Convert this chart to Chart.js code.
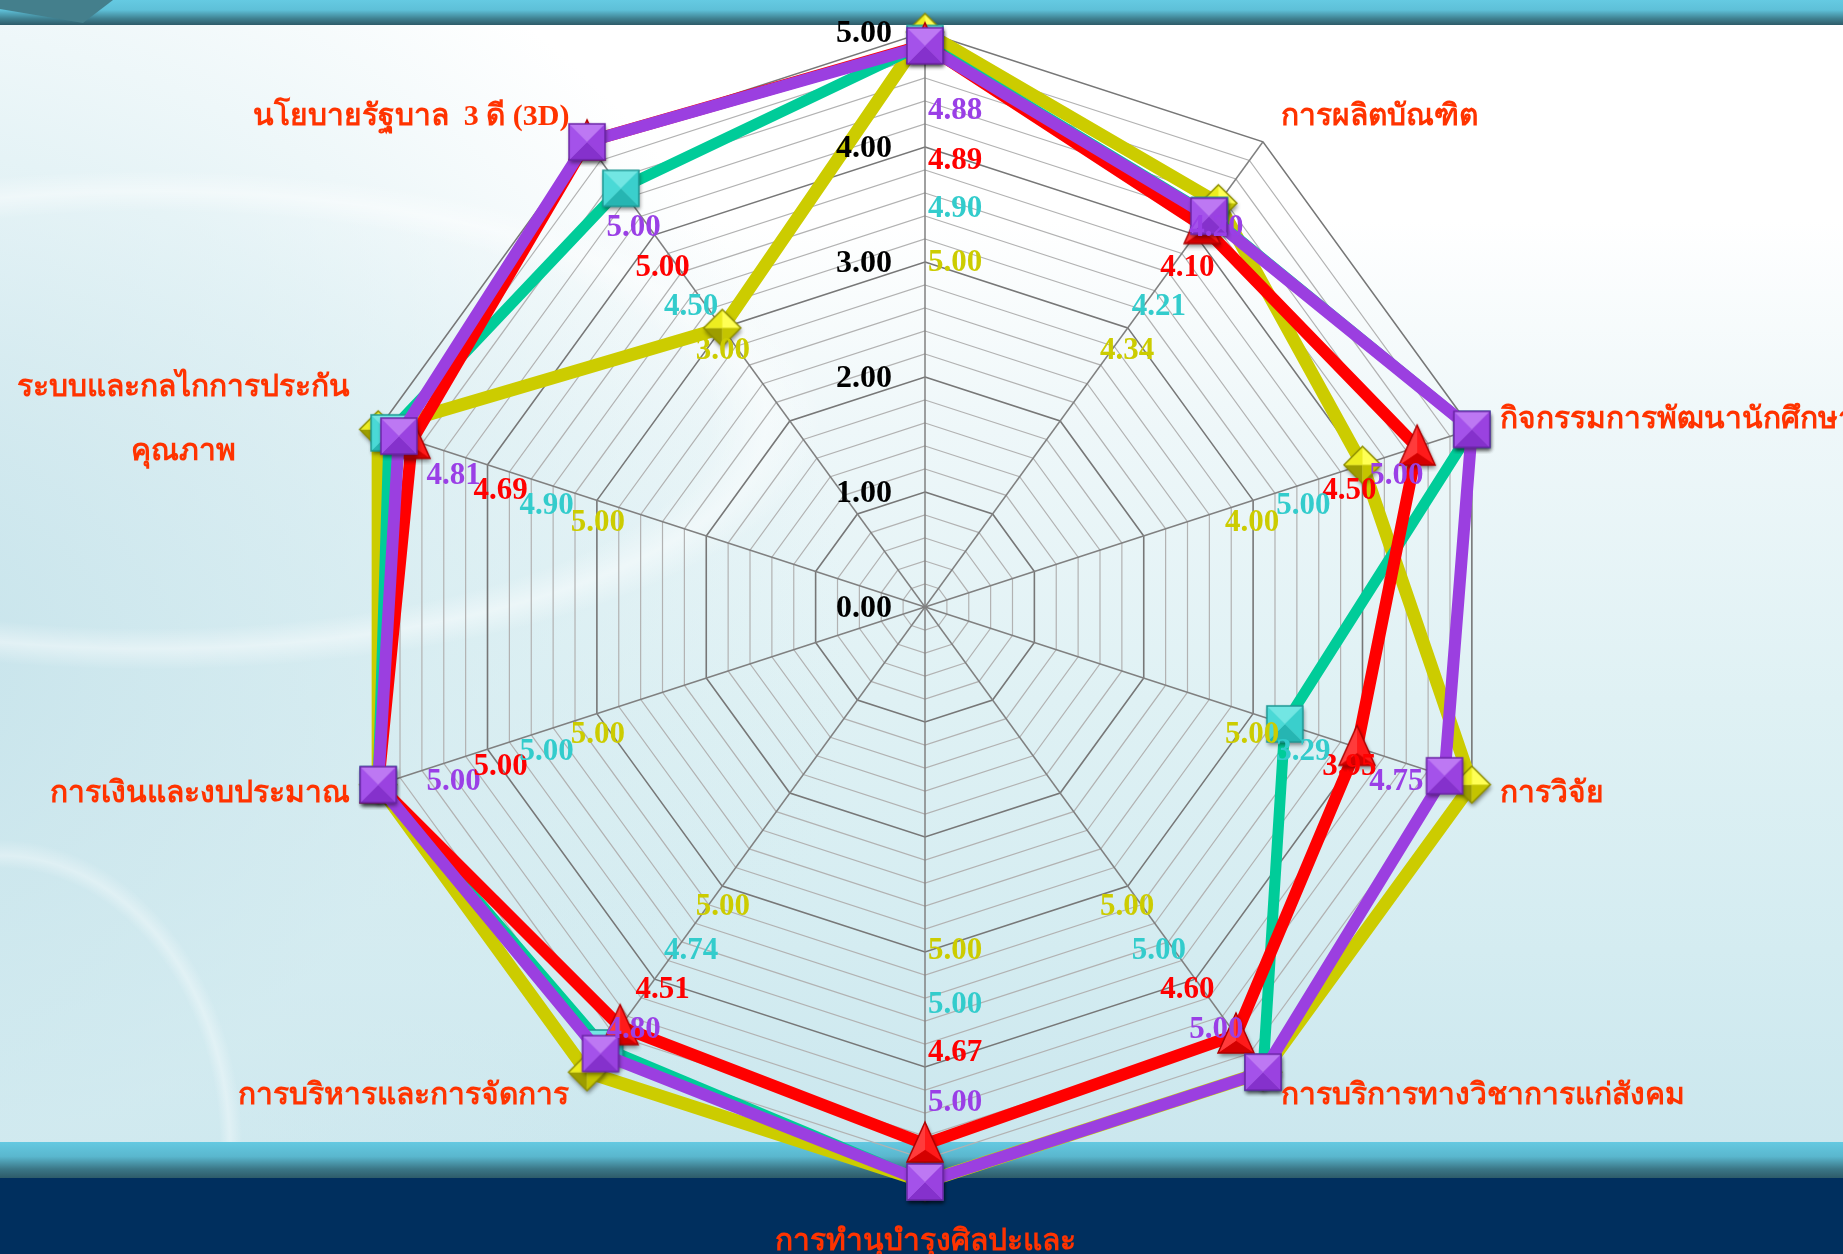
<!DOCTYPE html>
<html>
<head>
<meta charset="utf-8">
<script src="https://cdn.jsdelivr.net/npm/chart.js@4.4.1/dist/chart.umd.min.js"></script>
<style>
html, body { margin: 0; padding: 0; width: 1843px; height: 1254px; overflow: hidden; }
body {
    position: relative;
    background:
        radial-gradient(ellipse 250px 320px at 0px 1150px, rgba(255,255,255,0) 88%, rgba(255,255,255,0.35) 92%, rgba(255,255,255,0) 97%),
        radial-gradient(ellipse 700px 260px at 150px 420px, rgba(255,255,255,0) 80%, rgba(255,255,255,0.45) 88%, rgba(255,255,255,0) 96%),
        radial-gradient(ellipse 1000px 850px at -150px 650px, rgba(196,226,234,0.95), rgba(212,235,240,0.6) 60%, rgba(255,255,255,0) 100%),
        linear-gradient(180deg, #ffffff 0px, #ffffff 220px, #eef7f9 430px, #dff1f4 700px, #d4ecf1 950px, #cbe7ee 1142px);
}
#top { position: absolute; left: 0; top: 0; width: 1843px; height: 25px;
    background: linear-gradient(180deg, #65cae2 0%, #5ec0d8 40%, #3f8090 75%, #2d5b69 100%); }
#corner { position: absolute; left: 0; top: 0; width: 120px; height: 25px; background: #447f8c;
    clip-path: polygon(0 0, 113px 0, 83px 23px, 0 9px); }
#band { position: absolute; left: 0; top: 1142px; width: 1843px; height: 36px;
    background: linear-gradient(180deg, #64c9e1 0%, #5ab7ce 40%, #3b7787 75%, #2d5b69 100%); }
#navy { position: absolute; left: 0; top: 1178px; width: 1843px; height: 76px; background: #002f5e; }
#wrap { position: absolute; left: 0; top: 0; width: 1843px; height: 1254px; }
</style>
</head>
<body>
<div id="top"></div>
<div id="corner"></div>
<div id="band"></div>
<div id="navy"></div>
<div id="wrap"><canvas id="chartRadar"></canvas></div>
<script>
const categorias = [
    '',
    'การผลิตบัณฑิต',
    'กิจกรรมการพัฒนานักศึกษา',
    'การวิจัย',
    'การบริการทางวิชาการแก่สังคม',
    ['การทำนุบำรุงศิลปะและ', 'วัฒนธรรม'],
    'การบริหารและการจัดการ',
    'การเงินและงบประมาณ',
    ['ระบบและกลไกการประกัน', 'คุณภาพ'],
    'นโยบายรัฐบาล  3 ดี (3D)'
];
const valoresMorado   = [4.88, 4.20, 5.00, 4.75, 5.00, 5.00, 4.80, 5.00, 4.81, 5.00];
const valoresRojo     = [4.89, 4.10, 4.50, 3.95, 4.60, 4.67, 4.51, 5.00, 4.69, 5.00];
const valoresCian     = [4.90, 4.21, 5.00, 3.29, 5.00, 5.00, 4.74, 5.00, 4.90, 4.50];
const valoresAmarillo = [5.00, 4.34, 4.00, 5.00, 5.00, 5.00, 5.00, 5.00, 5.00, 3.00];
const ticksMayores = [0, 1, 2, 3, 4, 5];

const serif = '"Liberation Serif", "Times New Roman", serif';

// beveled markers like the office ones
function marcador(tipo, size, caras, borde) {
    const pad = 7;
    const c = document.createElement('canvas');
    c.width = size + pad * 2;
    c.height = size + pad * 2;
    const g = c.getContext('2d');
    const m = pad, s = size, cx = m + s / 2, cy = m + s / 2;
    let pts;
    if (tipo === 'rect') pts = [[m, m], [m + s, m], [m + s, m + s], [m, m + s]];
    else if (tipo === 'diamond') pts = [[cx, m], [m + s, cy], [cx, m + s], [m, cy]];
    else pts = [[cx, m - 4], [m + s, m + s], [m, m + s]];
    g.save();
    g.shadowColor = 'rgba(0,0,0,0.45)';
    g.shadowBlur = 4;
    g.shadowOffsetX = 1;
    g.shadowOffsetY = 3;
    g.beginPath();
    pts.forEach((p, i) => i ? g.lineTo(p[0], p[1]) : g.moveTo(p[0], p[1]));
    g.closePath();
    g.fillStyle = caras[0];
    g.fill();
    g.restore();
    const ccy = tipo === 'triangle' ? m + s * 0.66 : cy;
    for (let i = 0; i < pts.length; i++) {
        const a = pts[i], b = pts[(i + 1) % pts.length];
        g.beginPath();
        g.moveTo(a[0], a[1]);
        g.lineTo(b[0], b[1]);
        g.lineTo(cx, ccy);
        g.closePath();
        g.fillStyle = caras[i % caras.length];
        g.fill();
    }
    g.beginPath();
    pts.forEach((p, i) => i ? g.lineTo(p[0], p[1]) : g.moveTo(p[0], p[1]));
    g.closePath();
    g.lineWidth = 1.5;
    g.strokeStyle = borde;
    g.stroke();
    return c;
}

const mkMorado = marcador('rect', 36, ['#bd78f3', '#9a42e0', '#8531cc', '#a452ea'], '#6b25a6');
const mkRojo = marcador('triangle', 36, ['#ff1a1a', '#d40000', '#ff3b3b'], '#b00000');
const mkCian = marcador('rect', 36, ['#72e6e3', '#3acfcc', '#26b5b2', '#4ad9d6'], '#1c9894');
const mkAmarillo = marcador('diamond', 37, ['#ffff55', '#c4c400', '#9d9d00', '#eded20'], '#8c8c00');

const etiquetasValores = {
    id: 'etiquetasValores',
    afterDatasetsDraw(chart) {
        const r = chart.scales.r;
        const ctx = chart.ctx;
        ctx.save();
        ctx.font = 'bold 31px ' + serif;
        ctx.textBaseline = 'middle';
        chart.data.datasets.forEach(ds => {
            ds.data.forEach((v, i) => {
                const p = r.getPointPositionForValue(i, ds.labelAt);
                let x = p.x, y = p.y;
                if (i === 0 || i === 5) {
                    ctx.textAlign = 'left';
                    x += 3;
                } else {
                    ctx.textAlign = 'center';
                    y += 22;
                }
                ctx.fillStyle = ds.labelColor;
                ctx.fillText(v.toFixed(2), x, y);
            });
        });
        ctx.restore();
    }
};

const etiquetasEjes = {
    id: 'etiquetasEjes',
    afterDraw(chart) {
        const r = chart.scales.r;
        const ctx = chart.ctx;
        ctx.save();
        // tick numbers, left of the vertical axis
        ctx.font = 'bold 32px ' + serif;
        ctx.fillStyle = '#000000';
        ctx.textAlign = 'right';
        ctx.textBaseline = 'middle';
        ticksMayores.forEach(t => {
            const d = r.getDistanceFromCenterForValue(t);
            ctx.fillText(t.toFixed(2), r.xCenter - 33, r.yCenter - d + 2);
        });
        // category names
        ctx.font = 'bold 30px ' + serif;
        ctx.fillStyle = '#ff3300';
        chart.data.labels.forEach((lab, i) => {
            const lines = Array.isArray(lab) ? lab : [lab];
            const p = r.getPointPosition(i, r.drawingArea + 30);
            const lh = 64;
            if (Math.abs(p.x - r.xCenter) < 5) {
                ctx.textAlign = 'center';
                const y0 = p.y > r.yCenter ? p.y + 30 : p.y - 28 - (lines.length - 1) * lh;
                lines.forEach((t, k) => ctx.fillText(t, p.x, y0 + k * lh));
                return;
            }
            const w = Math.max(...lines.map(t => ctx.measureText(t).width));
            const cx = p.x > r.xCenter ? p.x + w / 2 : p.x - w / 2;
            const y0 = p.y - (lines.length - 1) * lh / 2;
            ctx.textAlign = lines.length > 1 ? 'center' : (p.x > r.xCenter ? 'left' : 'right');
            lines.forEach((t, k) => ctx.fillText(t, lines.length > 1 ? cx : p.x, y0 + k * lh));
        });
        ctx.restore();
    }
};

const esMayor = c => Math.abs(c.tick.value - Math.round(c.tick.value)) < 1e-6;

const ctx1 = document.getElementById('chartRadar');
new Chart(ctx1, {
    type: 'radar',
    data: {
        labels: categorias,
        datasets: [{
            label: 'ชุดที่ 4',
            data: valoresMorado,
            borderColor: '#9b3fe0',
            borderWidth: 12,
            pointStyle: mkMorado,
            pointRadius: 18,
            labelAt: 4.31,
            labelColor: '#9a3fe6',
            order: 1
        }, {
            label: 'ชุดที่ 3',
            data: valoresRojo,
            borderColor: '#ff0000',
            borderWidth: 12,
            pointStyle: mkRojo,
            pointRadius: 18,
            labelAt: 3.88,
            labelColor: '#ff0000',
            order: 2
        }, {
            label: 'ชุดที่ 2',
            data: valoresCian,
            borderColor: '#00cc99',
            borderWidth: 11,
            pointStyle: mkCian,
            pointRadius: 18,
            labelAt: 3.46,
            labelColor: '#33cccc',
            order: 3
        }, {
            label: 'ชุดที่ 1',
            data: valoresAmarillo,
            borderColor: '#cccc00',
            borderWidth: 13,
            pointStyle: mkAmarillo,
            pointRadius: 18,
            labelAt: 2.99,
            labelColor: '#cccc00',
            order: 4
        }]
    },
    options: {
        responsive: true,
        maintainAspectRatio: false,
        animation: false,
        layout: { padding: { left: 350, right: 343, top: 32, bottom: 72 } },
        elements: { line: { tension: 0, fill: false, borderJoinStyle: 'miter' } },
        plugins: {
            legend: { display: false },
            tooltip: { enabled: false }
        },
        scales: {
            r: {
                min: 0,
                max: 5,
                ticks: { stepSize: 0.2, display: false },
                pointLabels: { display: false },
                angleLines: { color: '#808080', lineWidth: 1.5 },
                grid: {
                    color: c => esMayor(c) ? '#777777' : '#b2b2b2',
                    lineWidth: c => esMayor(c) ? 1.6 : 1.2
                }
            }
        }
    },
    plugins: [etiquetasValores, etiquetasEjes]
});
</script>
</body>
</html>
